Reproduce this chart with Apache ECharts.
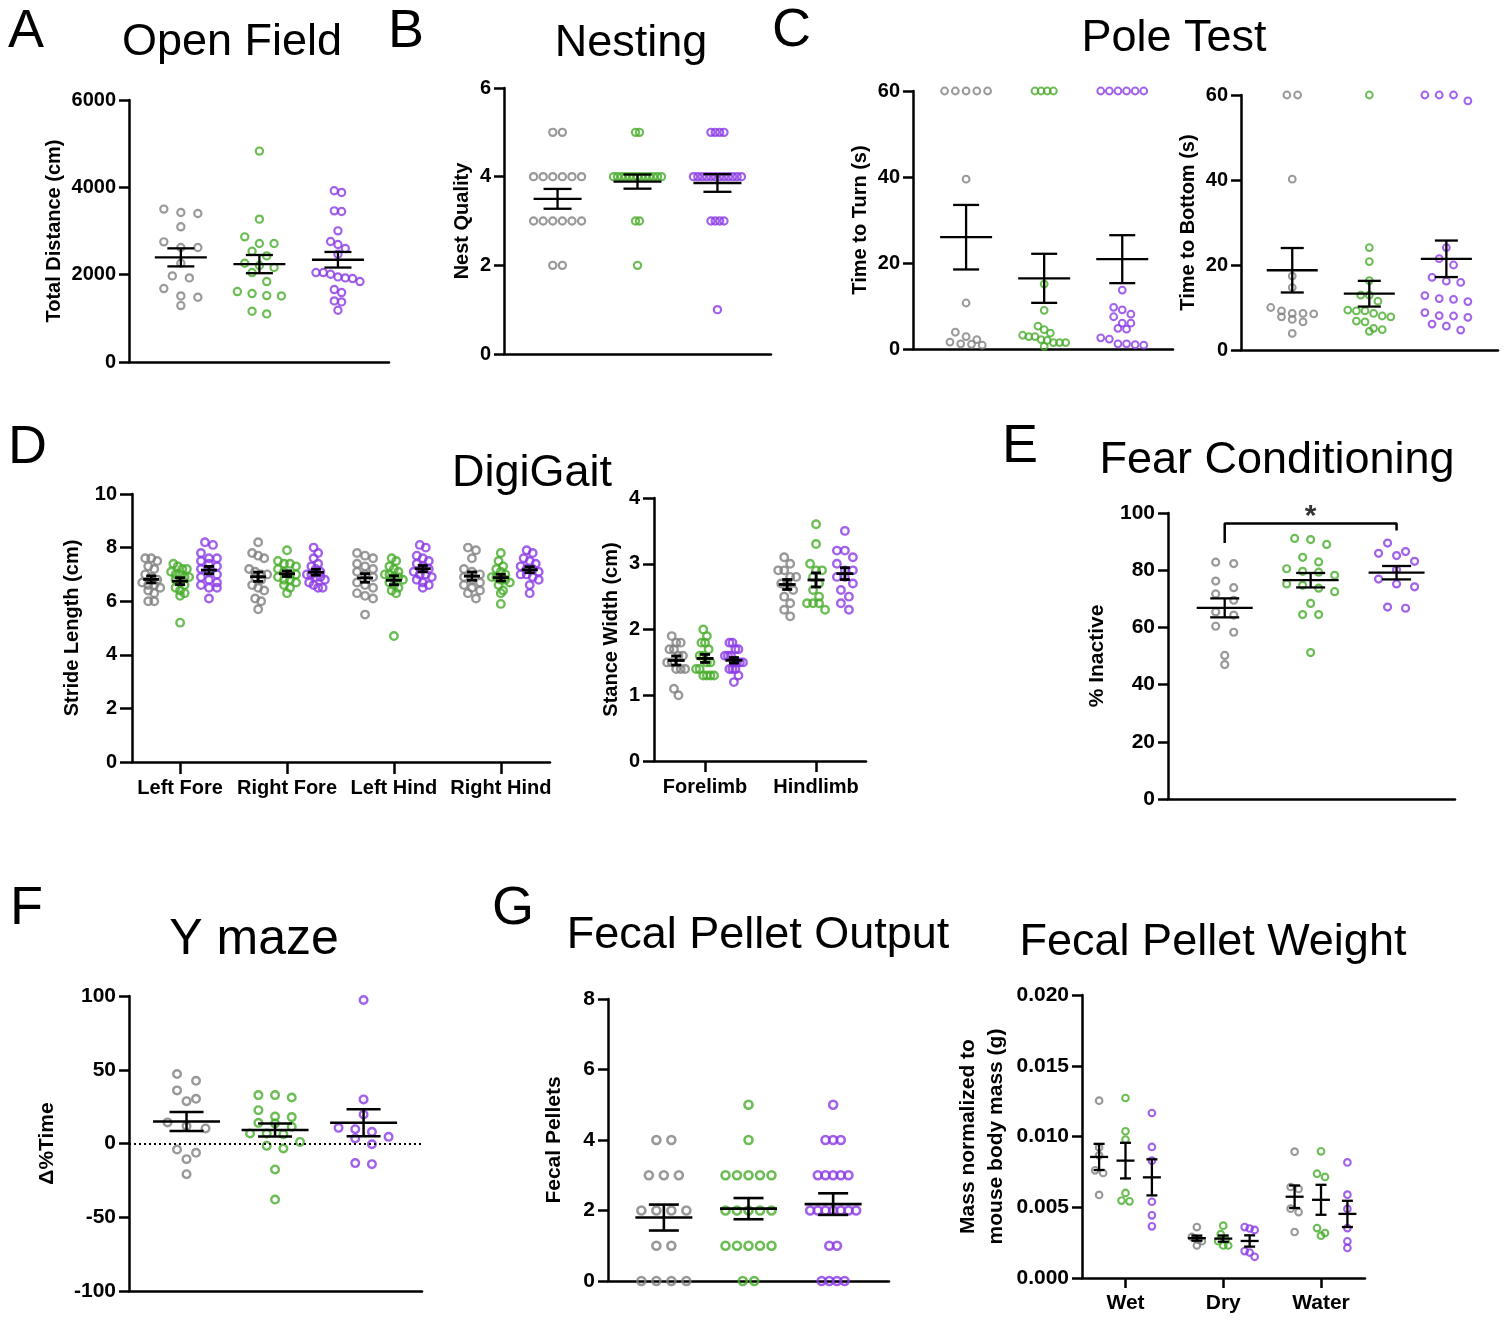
<!DOCTYPE html>
<html>
<head>
<meta charset="utf-8">
<title>Behaviour panels</title>
<script src="https://cdn.jsdelivr.net/npm/echarts@6/dist/echarts.min.js"></script>
<style>
html, body { margin: 0; padding: 0; background: #fff; }
#fig { width: 1509px; height: 1321px; }
</style>
</head>
<body>
<div id="fig"></div>
<script>
var FONT = '"Liberation Sans", Arial, Helvetica, sans-serif';
var colors = ['#7f7f7f', '#47ad2b', '#8b3ae6'];

// A - open field, total distance (cm)
var openFieldGray = [3424, 3501, 3401, 3096, 2752, 2622, 2622, 2262, 1972, 1926, 1682, 1483, 1513, 1292];
var openFieldGreen = [4830, 3271, 2866, 2713, 2713, 2537, 2430, 2209, 2262, 2163, 2048, 1842, 1613, 1521, 1513, 1567, 1162, 1101];
var openFieldPurple = [3883, 3921, 3462, 3447, 3004, 2690, 2759, 2599, 2469, 2010, 2048, 2048, 1911, 1926, 1949, 1842, 1659, 1590, 1399, 1376, 1185];

// B - nest quality score
var nestGray = [5, 5, 4, 4, 4, 4, 4, 4, 3, 3, 3, 3, 3, 3, 2, 2];
var nestGreen = [5, 5, 4, 4, 4, 4, 4, 4, 4, 4, 4, 4, 4, 4, 4, 3, 3, 2];
var nestPurple = [5, 5, 5, 5, 4, 4, 4, 4, 4, 4, 4, 4, 4, 4, 4, 4, 3, 3, 3, 3, 1];

// C - pole test (s)
var turnGray = [60, 60, 60, 60, 60, 39.5, 10.7, 3.9, 2.2, 1.1, 1.2, 1.6, 2.9, 0.9];
var turnGreen = [60, 60, 60, 60, 15.1, 9.0, 5.3, 4.5, 2.9, 1.5, 2.2, 1.5, 2.0, 2.9, 3.7, 3.2, 1.5, 0.6];
var turnPurple = [60, 60, 60, 60, 60, 60, 13.7, 9.7, 9.1, 7.5, 8.1, 4.8, 4.6, 6.0, 6.0, 2.6, 2.3, 1.0, 1.2, 0.9, 1.2];
var bottomGray = [60, 60, 40.2, 17.4, 14.7, 10.0, 7.8, 8.6, 8.6, 9.2, 8.5, 6.6, 7.2, 3.9];
var bottomGreen = [60, 24.1, 20.8, 16.3, 12.9, 12.9, 11.5, 8.6, 9.2, 9.2, 9.4, 8.0, 7.8, 6.6, 6.8, 4.4, 4.8, 5.1];
var bottomPurple = [60, 60, 60, 58.6, 24.1, 21.5, 20.0, 17.1, 16.2, 15.9, 11.4, 11.9, 12.1, 12.8, 8.8, 7.7, 8.0, 8.1, 5.6, 6.1, 4.7];

// D - DigiGait
var strideCats = ['Left Fore', 'Right Fore', 'Left Hind', 'Right Hind'];
var strideGray = [
  [7.6, 7.6, 7.5, 7.3, 7.2, 7.0, 6.9, 6.8, 6.7, 6.6, 6.5, 6.4, 6.3, 6.6, 6.0, 6.0],
  [8.2, 7.8, 7.7, 7.6, 7.2, 7.1, 7.0, 7.0, 6.9, 6.8, 6.6, 6.5, 6.4, 6.1, 6.0, 5.7],
  [7.8, 7.7, 7.6, 7.4, 7.3, 7.2, 7.1, 7.0, 6.9, 6.7, 6.6, 6.5, 6.3, 6.2, 6.1, 5.5],
  [8.0, 7.9, 7.6, 7.2, 7.1, 7.0, 6.9, 6.8, 6.7, 6.6, 6.5, 6.4, 6.3, 6.1]
];
var strideGreen = [
  [7.4, 7.3, 7.2, 7.2, 7.1, 7.0, 7.0, 6.9, 6.9, 6.8, 6.7, 6.6, 6.5, 6.4, 6.3, 6.2, 5.2],
  [7.9, 7.5, 7.4, 7.4, 7.3, 7.2, 7.1, 7.0, 7.0, 6.9, 6.8, 6.8, 6.7, 6.6, 6.5, 6.3],
  [7.6, 7.5, 7.3, 7.2, 7.1, 7.0, 7.0, 6.9, 6.9, 6.8, 6.7, 6.6, 6.5, 6.4, 6.3, 4.7],
  [7.8, 7.5, 7.3, 7.2, 7.1, 7.0, 6.9, 6.9, 6.8, 6.8, 6.7, 6.6, 6.4, 6.3, 5.9]
];
var stridePurple = [
  [8.2, 8.1, 7.8, 7.6, 7.6, 7.5, 7.4, 7.3, 7.2, 7.1, 7.0, 6.9, 6.8, 6.7, 6.6, 6.5, 6.5, 6.1],
  [8.0, 7.8, 7.6, 7.4, 7.3, 7.2, 7.1, 7.0, 7.0, 6.9, 6.9, 6.8, 6.7, 6.6, 6.5, 6.5],
  [8.1, 8.0, 7.7, 7.6, 7.5, 7.4, 7.3, 7.2, 7.1, 7.0, 7.0, 6.9, 6.8, 6.7, 6.6, 6.5],
  [7.9, 7.8, 7.6, 7.5, 7.4, 7.3, 7.2, 7.2, 7.1, 7.0, 7.0, 6.9, 6.8, 6.6, 6.3]
];
var stanceCats = ['Forelimb', 'Hindlimb'];
var stanceGray = [
  [1.9, 1.8, 1.8, 1.7, 1.7, 1.6, 1.6, 1.5, 1.5, 1.4, 1.4, 1.4, 1.1, 1.0],
  [3.1, 3.0, 2.9, 2.9, 2.8, 2.8, 2.7, 2.7, 2.6, 2.5, 2.4, 2.3, 2.2]
];
var stanceGreen = [
  [2.0, 1.9, 1.8, 1.8, 1.7, 1.6, 1.6, 1.5, 1.5, 1.4, 1.4, 1.3, 1.3, 1.3, 1.3],
  [3.6, 3.3, 3.0, 2.9, 2.9, 2.8, 2.7, 2.6, 2.5, 2.4, 2.4, 2.4, 2.3]
];
var stancePurple = [
  [1.8, 1.8, 1.7, 1.7, 1.6, 1.6, 1.6, 1.5, 1.5, 1.5, 1.5, 1.4, 1.4, 1.4, 1.3, 1.2],
  [3.5, 3.2, 3.2, 3.1, 3.0, 2.9, 2.9, 2.8, 2.8, 2.7, 2.6, 2.5, 2.4, 2.3]
];

// E - fear conditioning, % inactive
var fearGray = [82.3, 82.8, 73.9, 76.2, 69.5, 71.7, 64.3, 65.4, 58.3, 60.4, 47.0, 50.2];
var fearGreen = [91.1, 90.7, 89.0, 84.5, 82.9, 80.5, 79.6, 78.2, 79.3, 74.7, 75.2, 72.5, 73.7, 68.4, 64.5, 64.5, 51.2];
var fearPurple = [86.5, 85.1, 89.5, 85.9, 83.1, 80.2, 76.9, 74.2, 75.2, 66.7, 67.1];
var sigBracket = [[1, 89.5], [1, 96.3], [3, 96.3], [3, 93.9]];
var sigStar = [2, 98.7];

// F - Y maze
var ymazeGray = [47.1, 42.5, 36.0, 30.3, 28.7, 14.3, 10.2, 11.8, -4.1, -6.3, -10.6, -20.8];
var ymazeGreen = [32.8, 32.8, 31.2, 22.6, 17.9, 18.3, 11.3, 13.6, 14.0, 6.8, 6.8, 6.3, 1.1, -3.4, -1.6, -17.6, -38.0];
var ymazePurple = [97.3, 29.9, 19.7, 9.7, 10.6, 7.9, 3.4, 4.5, -0.5, -14.0, -13.3];

// G - fecal pellets
var pelletGray = [4, 4, 3, 3, 3, 2, 2, 2, 2, 1, 1, 0, 0, 0, 0];
var pelletGreen = [5, 4, 3, 3, 3, 3, 3, 2, 2, 2, 2, 2, 1, 1, 1, 1, 1, 0, 0];
var pelletPurple = [5, 4, 4, 4, 3, 3, 3, 3, 3, 2, 2, 2, 2, 2, 2, 2, 1, 1, 0, 0, 0, 0];
var massCats = ['Wet', 'Dry', 'Water'];
var massGray = [
  [0.01253, 0.00923, 0.00867, 0.00761, 0.00742, 0.00587],
  [0.0036, 0.0029, 0.0028, 0.0027, 0.0026, 0.0023],
  [0.00893, 0.00643, 0.00629, 0.0049, 0.00466, 0.00325]
];
var massGreen = [
  [0.01272, 0.01037, 0.00978, 0.00601, 0.00542, 0.00547],
  [0.0037, 0.0031, 0.0027, 0.0026, 0.0023, 0.0023],
  [0.00895, 0.00737, 0.00714, 0.00353, 0.00299, 0.00318]
];
var massPurple = [
  [0.01166, 0.00926, 0.00829, 0.00539, 0.00443, 0.00365],
  [0.0036, 0.0035, 0.0034, 0.0019, 0.0018, 0.0015],
  [0.00817, 0.00589, 0.00488, 0.00353, 0.00259, 0.00212]
];

function mean(a) { return a.reduce(function (s, v) { return s + v; }, 0) / a.length; }
function sem(a) {
  var m = mean(a);
  var ss = a.reduce(function (s, v) { return s + (v - m) * (v - m); }, 0);
  return Math.sqrt(ss / (a.length - 1)) / Math.sqrt(a.length);
}

// prism-like scatter: bin close values into rows, centre each row
function swarm(values, pxPerY, sw) {
  var order = values.map(function (v, i) { return i; }).sort(function (a, b) { return values[b] - values[a]; });
  var rows = [], cur = null;
  order.forEach(function (i) {
    if (cur && (cur.top - values[i]) * pxPerY < sw.rowH) cur.items.push(i);
    else { cur = { top: values[i], items: [i] }; rows.push(cur); }
  });
  var maxN = Math.max.apply(null, rows.map(function (r) { return r.items.length; }));
  var step = maxN > 1 ? Math.min(sw.maxS, sw.maxW / (maxN - 1)) : 0;
  var off = [];
  rows.forEach(function (r) {
    r.items.forEach(function (i, k) { off[i] = (k - (r.items.length - 1) / 2) * step; });
  });
  return off;
}

function threeSets(a, b, c) {
  return [a, b, c].map(function (v, k) { return { x: k + 1, values: v, color: colors[k] }; });
}
function catSets(a, b, c, gap) {
  var out = [];
  a.forEach(function (_, ci) {
    [a, b, c].forEach(function (arr, k) {
      out.push({ x: ci + 1 + (k - 1) * gap, values: arr[ci], color: colors[k] });
    });
  });
  return out;
}

var grids = [], xAxes = [], yAxes = [], series = [];

function addPanel(p) {
  var i = grids.length;
  var fs = p.fs || 20;
  var tick = p.tick || 10;
  grids.push({ left: p.rect[0], top: p.rect[1], width: p.rect[2], height: p.rect[3] });
  var tickVals = p.cats ? p.cats.map(function (c, k) { return k + 1; }) : [];
  var lbl = { color: '#000', fontFamily: FONT, fontWeight: 'bold', fontSize: fs };
  xAxes.push({
    gridIndex: i, type: 'value', min: p.x[0], max: p.x[1],
    splitLine: { show: false },
    axisLine: { onZero: false, lineStyle: { color: '#000', width: 2.5 } },
    axisTick: p.cats ? { show: true, customValues: tickVals, length: tick, lineStyle: { color: '#000', width: 2.5 } } : { show: false },
    axisLabel: p.cats ? Object.assign({
      show: true, customValues: tickVals, margin: p.xMargin || 16,
      formatter: function (v) { return p.cats[Math.round(v) - 1]; }
    }, lbl) : { show: false }
  });
  var yLabel = Object.assign({
    margin: tick + 3,
    formatter: p.yFmt || function (v) { return String(v); }
  }, lbl);
  yAxes.push({
    gridIndex: i, type: 'value', min: p.y[0], max: p.y[1], interval: p.y[2],
    name: p.yName, nameLocation: 'middle', nameGap: p.nameGap,
    nameTextStyle: Object.assign({ lineHeight: Math.round(fs * 1.35) }, lbl),
    splitLine: { show: false },
    axisLine: { show: true, onZero: false, lineStyle: { color: '#000', width: 2.5 } },
    axisTick: { show: true, length: tick, lineStyle: { color: '#000', width: 2.5 } },
    axisLabel: yLabel
  });
  var pxPerX = p.rect[2] / (p.x[1] - p.x[0]);
  var pxPerY = p.rect[3] / (p.y[1] - p.y[0]);
  var bars = [];
  p.sets.forEach(function (s, k) {
    var off = swarm(s.values, pxPerY, p.swarm);
    var sc = {
      type: 'scatter', xAxisIndex: i, yAxisIndex: i, silent: true, z: 2,
      symbol: 'circle', symbolSize: p.sym[0],
      itemStyle: { color: 'rgba(255,255,255,0)', borderColor: s.color, borderWidth: p.sym[1] },
      data: s.values.map(function (v, j) { return [s.x + off[j] / pxPerX, v]; })
    };
    if (p.zeroLine && k === 0) {
      sc.markLine = {
        silent: true, symbol: 'none', label: { show: false },
        lineStyle: { color: '#000', width: 2, type: [2, 3] },
        data: [{ yAxis: 0 }]
      };
    }
    series.push(sc);
    bars.push([s.x, mean(s.values), sem(s.values)]);
  });
  var b = p.bar;
  series.push({
    type: 'custom', xAxisIndex: i, yAxisIndex: i, silent: true, z: 3,
    data: bars,
    renderItem: function (params, api) {
      var x = api.value(0), m = api.value(1), s = api.value(2);
      var c = api.coord([x, m]), t = api.coord([x, m + s]), bt = api.coord([x, m - s]);
      var st = { stroke: '#000', lineWidth: b[2], fill: null };
      function seg(x1, y1, x2, y2) { return { type: 'line', shape: { x1: x1, y1: y1, x2: x2, y2: y2 }, style: st }; }
      return {
        type: 'group', children: [
          seg(c[0] - b[0] / 2, c[1], c[0] + b[0] / 2, c[1]),
          seg(t[0], t[1], bt[0], bt[1]),
          seg(t[0] - b[1] / 2, t[1], t[0] + b[1] / 2, t[1]),
          seg(bt[0] - b[1] / 2, bt[1], bt[0] + b[1] / 2, bt[1])
        ]
      };
    }
  });
  return i;
}

// A
addPanel({
  rect: [129, 100, 260, 262], x: [0.34, 3.65], y: [0, 6000, 2000],
  yName: 'Total Distance (cm)', nameGap: 57,
  sets: threeSets(openFieldGray, openFieldGreen, openFieldPurple),
  swarm: { rowH: 9, maxW: 44, maxS: 17 }, sym: [7.2, 2.2], bar: [52, 27, 2.3]
});
// B
addPanel({
  rect: [504, 88, 267, 266], x: [0.33, 3.67], y: [0, 6, 2],
  yName: 'Nest Quality', nameGap: 27,
  sets: threeSets(nestGray, nestGreen, nestPurple),
  swarm: { rowH: 9, maxW: 48, maxS: 11 }, sym: [7.2, 2.2], bar: [48, 28, 2.3]
});
// C left
addPanel({
  rect: [913, 91, 260, 258], x: [0.32, 3.65], y: [0, 60, 20],
  yName: 'Time to Turn (s)', nameGap: 38,
  sets: threeSets(turnGray, turnGreen, turnPurple),
  swarm: { rowH: 9, maxW: 43, maxS: 11 }, sym: [6.8, 2], bar: [52, 26, 2.3]
});
// C right
addPanel({
  rect: [1241, 95, 257, 255], x: [0.335, 3.67], y: [0, 60, 20],
  yName: 'Time to Bottom (s)', nameGap: 38,
  sets: threeSets(bottomGray, bottomGreen, bottomPurple),
  swarm: { rowH: 9, maxW: 43, maxS: 15 }, sym: [6.8, 2], bar: [51, 23, 2.3]
});
// D left
addPanel({
  rect: [132, 494, 418, 268], x: [0.55, 4.46], y: [0, 10, 2],
  yName: 'Stride Length (cm)', nameGap: 46, tick: 12, cats: strideCats,
  sets: catSets(strideGray, strideGreen, stridePurple, 0.27),
  swarm: { rowH: 7, maxW: 18, maxS: 8 }, sym: [7.5, 2.4], bar: [16, 10, 2.8]
});
// D right
addPanel({
  rect: [654, 498, 212, 263], x: [0.54, 2.45], y: [0, 4, 1],
  yName: 'Stance Width (cm)', nameGap: 29, tick: 11, cats: stanceCats,
  sets: catSets(stanceGray, stanceGreen, stancePurple, 0.26),
  swarm: { rowH: 7, maxW: 18, maxS: 8 }, sym: [7.5, 2.4], bar: [17, 10, 2.8]
});
// E
var fearIdx = addPanel({
  rect: [1168, 513, 287, 286], x: [0.34, 3.68], y: [0, 100, 20],
  yName: '% Inactive', nameGap: 57, fs: 21,
  sets: threeSets(fearGray, fearGreen, fearPurple),
  swarm: { rowH: 9, maxW: 48, maxS: 18 }, sym: [7, 2.2], bar: [56, 29, 2.3]
});
series.push({
  type: 'line', xAxisIndex: fearIdx, yAxisIndex: fearIdx, silent: true, symbol: 'none',
  lineStyle: { color: '#000', width: 2.5 }, data: sigBracket
});
series.push({
  type: 'scatter', xAxisIndex: fearIdx, yAxisIndex: fearIdx, silent: true,
  symbolSize: 1, itemStyle: { color: 'rgba(0,0,0,0)' },
  label: { show: true, position: 'inside', formatter: '*', color: '#000', fontFamily: FONT, fontWeight: 'bold', fontSize: 30 },
  data: [sigStar]
});
// F
addPanel({
  rect: [129, 996, 293, 295], x: [0.35, 3.66], y: [-100, 100, 50],
  yName: 'Δ%Time', nameGap: 68, fs: 21, zeroLine: true,
  sets: threeSets(ymazeGray, ymazeGreen, ymazePurple),
  swarm: { rowH: 9, maxW: 50, maxS: 19 }, sym: [7.6, 2.4], bar: [67, 34, 2.5]
});
// G left
addPanel({
  rect: [608, 999, 281, 282], x: [0.34, 3.66], y: [0, 8, 2],
  yName: 'Fecal Pellets', nameGap: 40, fs: 21,
  sets: threeSets(pelletGray, pelletGreen, pelletPurple),
  swarm: { rowH: 9, maxW: 46, maxS: 15 }, sym: [8, 2.6], bar: [57, 30, 2.6]
});
// G right
addPanel({
  rect: [1082, 995, 283, 283], x: [0.555, 3.45], y: [0, 0.02, 0.005],
  yName: 'Mass normalized to\nmouse body mass (g)', nameGap: 72, fs: 21, tick: 10, cats: massCats, xMargin: 15,
  yFmt: function (v) { return v.toFixed(3); },
  sets: catSets(massGray, massGreen, massPurple, 0.27),
  swarm: { rowH: 6, maxW: 10, maxS: 8 }, sym: [6.6, 2.1], bar: [18, 11, 2.3]
});

function txt(t, x, y, size, align) {
  return {
    type: 'text', x: x, y: y, silent: true,
    style: {
      text: t, fill: '#000', font: size + 'px ' + FONT,
      align: align, textAlign: align, verticalAlign: 'middle', textVerticalAlign: 'middle'
    }
  };
}

var chart = echarts.init(document.getElementById('fig'), null, { renderer: 'canvas' });
chart.setOption({
  backgroundColor: '#fff',
  animation: false,
  grid: grids,
  xAxis: xAxes,
  yAxis: yAxes,
  series: series,
  graphic: [
    txt('A', 8, 32, 54, 'left'),
    txt('B', 388, 32, 54, 'left'),
    txt('C', 772, 31, 54, 'left'),
    txt('D', 8, 448, 54, 'left'),
    txt('E', 1002, 447, 54, 'left'),
    txt('F', 10, 909, 54, 'left'),
    txt('G', 492, 909, 54, 'left'),
    txt('Open Field', 232, 43, 45, 'center'),
    txt('Nesting', 631, 44, 45, 'center'),
    txt('Pole Test', 1174, 39, 45, 'center'),
    txt('DigiGait', 532, 474, 45, 'center'),
    txt('Fear Conditioning', 1277, 461, 45, 'center'),
    txt('Y maze', 254, 940, 50, 'center'),
    txt('Fecal Pellet Output', 758, 936, 45, 'center'),
    txt('Fecal Pellet Weight', 1213, 943, 45, 'center')
  ]
});
</script>
</body>
</html>
